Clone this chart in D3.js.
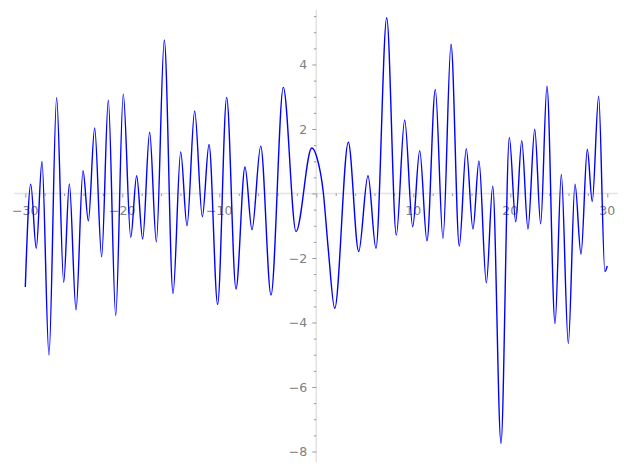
<!DOCTYPE html>
<html>
<head>
<meta charset="utf-8">
<script src="https://cdn.jsdelivr.net/npm/d3@7"></script>
<style>
  body { margin: 0; background: #fff; }
  svg { display: block; }
  .tick-label { font-family: "DejaVu Sans", sans-serif; font-size: 12.5px; fill: #808080; }
</style>
</head>
<body>
<div id="chart"></div>
<script>
// points (mostly its peaks and troughs)
var xs = [-30, -29.44, -28.87, -28.28, -27.56, -26.77, -26.04, -25.46, -24.77, -24.05,
  -23.5, -22.85, -22.13, -21.44, -20.68, -19.9, -19.13, -18.52, -17.9, -17.18,
  -16.49, -15.67, -14.77, -13.98, -13.33, -12.54, -11.75, -11.06, -10.17, -9.24,
  -8.28, -7.35, -6.63, -5.73, -4.67, -3.4, -2.09, -0.47, 0.04, 0.72,
  1.24, 1.9, 3.3, 4.37, 5.33, 6.15, 7.26, 8.25, 9.11, 9.94,
  10.66, 11.41, 12.27, 13.06, 13.89, 14.74, 15.46, 16.15, 16.77, 17.53,
  18.19, 19.04, 19.9, 20.56, 21.18, 21.82, 22.52, 23.13, 23.78, 24.61,
  25.26, 25.98, 26.67, 27.29, 27.94, 28.45, 29.11, 29.75, 30];
var ys = [-2.9, 0.29, -1.7, 0.99, -5.01, 2.97, -2.75, 0.3, -3.61, 0.71,
  -0.85, 2.03, -1.96, 2.89, -3.79, 3.08, -1.36, 0.55, -1.41, 1.9,
  -1.5, 4.76, -3.1, 1.29, -1.0, 2.56, -0.72, 1.52, -3.44, 2.98,
  -2.96, 0.82, -1.12, 1.47, -3.15, 3.29, -1.18, 1.41, 1.14, 0.04,
  -1.75, -3.56, 1.59, -1.8, 0.55, -1.7, 5.45, -1.29, 2.28, -1.03,
  1.33, -1.47, 3.23, -1.39, 4.63, -1.63, 1.39, -1.1, 1.01, -2.77,
  0.23, -7.75, 1.74, -0.88, 1.64, -1.1, 1.99, -0.94, 3.33, -4.03,
  0.59, -4.65, 0.29, -1.88, 1.37, -0.25, 3.02, -2.42, -2.25];

var xMajor = [-30, -20, -10, 10, 20, 30];
var yMajor = [4, 2, -2, -4, -6, -8];

var width = 627, height = 469;

var x = d3.scaleLinear().domain([-30, 30]).range([25.3, 607.3]);
var y = d3.scaleLinear().domain([-8, 4]).range([451.5, 64.5]);

var svg = d3.select("#chart").append("svg").attr("width", width).attr("height", height);

// axis spines through the origin
svg.append("line")
  .attr("x1", x(-31.15)).attr("x2", x(31.1))
  .attr("y1", y(0)).attr("y2", y(0))
  .attr("stroke", "#e3e3e3").attr("stroke-width", 1.6);
svg.append("line")
  .attr("x1", x(0)).attr("x2", x(0))
  .attr("y1", y(5.69)).attr("y2", y(-8.33))
  .attr("stroke", "#e3e3e3").attr("stroke-width", 1.6);

// ticks
var xAxis = d3.axisBottom(x).tickValues(d3.range(-30, 31, 2)).tickSize(2.5).tickFormat("");
var gx = svg.append("g").attr("transform", "translate(0," + y(0) + ")").call(xAxis);
gx.select(".domain").remove();
gx.selectAll(".tick line").attr("stroke", "#999")
  .attr("y2", function(d) { return d % 10 == 0 ? 4 : 2.5; });

var yAxis = d3.axisLeft(y).tickValues(d3.range(-16, 12).map(function(i) { return i / 2; })).tickSize(2.5).tickFormat("");
var gy = svg.append("g").attr("transform", "translate(" + x(0) + ",0)").call(yAxis);
gy.select(".domain").remove();
gy.selectAll(".tick line").attr("stroke", "#999")
  .attr("x2", function(d) { return d % 2 == 0 ? -4 : -2.5; });

// tick labels (no zero label, like sage)
svg.selectAll("text.xl").data(xMajor).enter().append("text")
  .attr("class", "tick-label xl")
  .attr("x", function(d) { return x(d); })
  .attr("y", y(0) + 21.5)
  .attr("text-anchor", "middle")
  .text(function(d) { return d < 0 ? "\u2212" + (-d) : d; });

svg.selectAll("text.yl").data(yMajor).enter().append("text")
  .attr("class", "tick-label yl")
  .attr("x", x(0) - 9)
  .attr("y", function(d) { return y(d) + 4.6; })
  .attr("text-anchor", "end")
  .text(function(d) { return d < 0 ? "\u2212" + (-d) : d; });

// the curve
var pts = xs.map(function(d, i) { return [d, ys[i]]; });
var line = d3.line()
  .x(function(d) { return x(d[0]); })
  .y(function(d) { return y(d[1]); })
  .curve(d3.curveMonotoneX);

svg.append("path").datum(pts)
  .attr("d", line)
  .attr("fill", "none")
  .attr("stroke", "#0000ff")
  .attr("stroke-width", 1.4);
</script>
</body>
</html>
